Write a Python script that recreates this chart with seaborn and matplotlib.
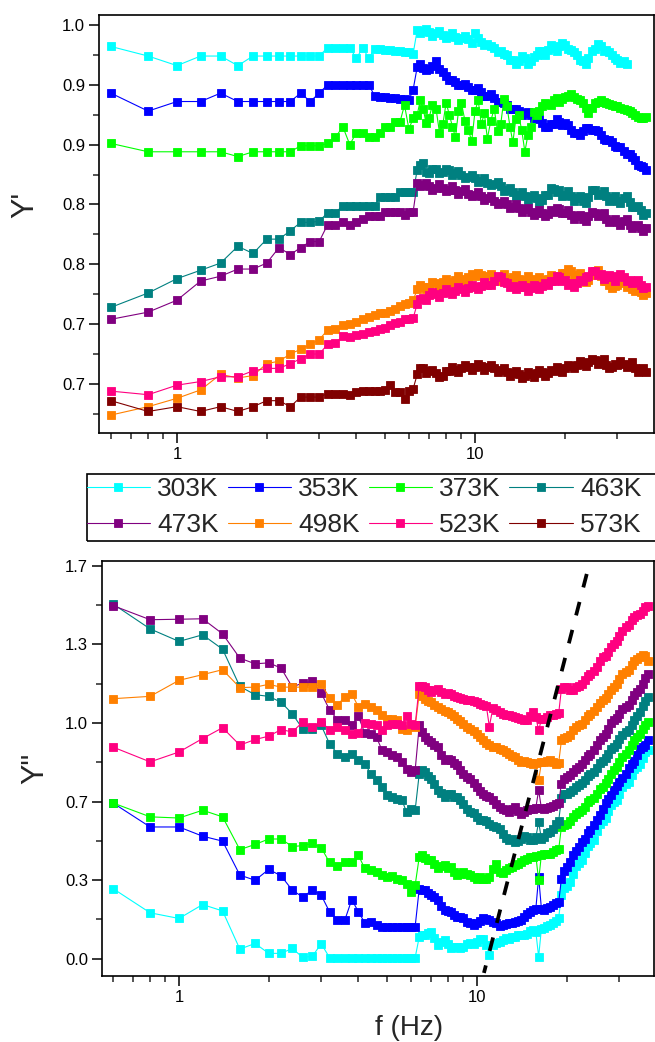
import matplotlib
matplotlib.use("Agg")
import matplotlib.pyplot as plt
from matplotlib.patches import Rectangle
from matplotlib.ticker import FixedLocator, FixedFormatter, LogLocator, NullFormatter
import pandas as pd
import seaborn as sns

sns.set_style("ticks")
plt.rcParams["font.family"] = ["Liberation Sans", "DejaVu Sans"]

# ---------------------------------------------------------------- data
temps = ["303K", "353K", "373K", "463K", "473K", "498K", "523K", "573K"]
colors = ["#00FFFF", "#0000FF", "#00FF00", "#008080",
          "#800080", "#FF8000", "#FF0080", "#800000"]

freq_low = [0.6, 0.8, 1.0, 1.2, 1.4, 1.6, 1.8, 2.0, 2.2, 2.4, 2.6, 2.8, 3.0,
            3.2, 3.4, 3.6, 3.8, 4.0, 4.2, 4.4, 4.6, 4.8, 5.0, 5.2, 5.4, 5.6,
            5.8, 6.0, 6.2]
freq_high = [6.4, 6.55, 6.7, 6.85, 7.0, 7.2, 7.4, 7.6, 7.8, 8.0,
             8.2, 8.4, 8.6, 8.8, 9.0, 9.25, 9.5, 9.75, 10, 10.25,
             10.5, 10.75, 11, 11.3, 11.6, 11.9, 12.2, 12.5, 12.8, 13.1,
             13.4, 13.7, 14, 14.35, 14.7, 15.05, 15.4, 15.75, 16.1, 16.45,
             16.8, 17.2, 17.6, 18.0, 18.4, 18.8, 19.2, 19.6, 20, 20.5,
             21, 21.5, 22, 22.5, 23, 23.5, 24, 24.6, 25.2, 25.8,
             26.4, 27, 27.6, 28.2, 28.8, 29.4, 30, 30.75, 31.5, 32.25,
             33, 33.75, 34.5, 35.25, 36, 36.75, 37.5]
freq = freq_low + freq_high

# ---- Y' (real part), low-frequency run then high-frequency run
yr_303 = [0.982, 0.974, 0.966, 0.974, 0.974, 0.966, 0.974, 0.974, 0.974, 0.974,
          0.974, 0.974, 0.974, 0.981, 0.981, 0.981, 0.981, 0.972, 0.981, 0.972,
          0.980, 0.980, 0.979, 0.979, 0.978, 0.978, 0.977, 0.977, 0.976,
          0.996, 0.993, 0.995, 0.997, 0.994, 0.991, 0.993, 0.995, 0.992, 0.989,
          0.991, 0.993, 0.990, 0.987, 0.989, 0.991, 0.988, 0.985, 0.993, 0.989,
          0.986, 0.983, 0.984, 0.982, 0.981, 0.977, 0.978, 0.976, 0.975, 0.971,
          0.971, 0.967, 0.970, 0.974, 0.972, 0.967, 0.970, 0.973, 0.975, 0.978,
          0.978, 0.975, 0.979, 0.983, 0.981, 0.978, 0.982, 0.985, 0.983, 0.980,
          0.979, 0.977, 0.975, 0.971, 0.970, 0.967, 0.972, 0.978, 0.980, 0.984,
          0.982, 0.978, 0.979, 0.977, 0.975, 0.972, 0.971, 0.968, 0.970, 0.967]
yr_353 = [0.943, 0.928, 0.936, 0.936, 0.943, 0.936, 0.936, 0.936, 0.936, 0.936,
          0.943, 0.936, 0.943, 0.950, 0.950, 0.950, 0.950, 0.950, 0.950, 0.950,
          0.941, 0.940, 0.940, 0.939, 0.939, 0.938, 0.938, 0.937, 0.946,
          0.965, 0.967, 0.964, 0.962, 0.963, 0.966, 0.970, 0.963, 0.961, 0.957,
          0.954, 0.954, 0.952, 0.950, 0.950, 0.951, 0.948, 0.946, 0.946, 0.947,
          0.944, 0.941, 0.941, 0.942, 0.939, 0.936, 0.936, 0.935, 0.933, 0.930,
          0.930, 0.930, 0.928, 0.925, 0.926, 0.927, 0.925, 0.922, 0.922, 0.921,
          0.918, 0.915, 0.915, 0.917, 0.917, 0.921, 0.919, 0.916, 0.918, 0.916,
          0.912, 0.910, 0.910, 0.908, 0.911, 0.914, 0.914, 0.912, 0.912, 0.911,
          0.908, 0.905, 0.904, 0.904, 0.902, 0.899, 0.898, 0.898, 0.895, 0.892,
          0.892, 0.890, 0.887, 0.883, 0.882, 0.881, 0.879]
yr_373 = [0.901, 0.894, 0.894, 0.894, 0.894, 0.890, 0.894, 0.894, 0.894, 0.894,
          0.899, 0.899, 0.899, 0.901, 0.906, 0.915, 0.900, 0.910, 0.910, 0.906,
          0.906, 0.910, 0.915, 0.915, 0.919, 0.919, 0.933, 0.913, 0.922,
          0.925, 0.937, 0.930, 0.918, 0.922, 0.933, 0.930, 0.910, 0.917, 0.935,
          0.925, 0.915, 0.906, 0.928, 0.935, 0.920, 0.912, 0.903, 0.928, 0.937,
          0.917, 0.926, 0.905, 0.920, 0.930, 0.911, 0.917, 0.938, 0.932, 0.915,
          0.902, 0.921, 0.925, 0.912, 0.894, 0.908, 0.915, 0.927, 0.925, 0.928,
          0.932, 0.935, 0.934, 0.933, 0.937, 0.939, 0.936, 0.938, 0.940, 0.941,
          0.942, 0.940, 0.938, 0.937, 0.935, 0.931, 0.926, 0.931, 0.935, 0.936,
          0.937, 0.936, 0.935, 0.934, 0.933, 0.932, 0.932, 0.931, 0.930, 0.929,
          0.928, 0.926, 0.925, 0.923, 0.922, 0.922, 0.923]
yr_463 = [0.764, 0.776, 0.788, 0.795, 0.801, 0.815, 0.809, 0.821, 0.821, 0.828,
          0.835, 0.835, 0.836, 0.843, 0.843, 0.849, 0.849, 0.849, 0.849, 0.849,
          0.849, 0.856, 0.856, 0.856, 0.856, 0.860, 0.860, 0.860, 0.860,
          0.879, 0.883, 0.885, 0.877, 0.876, 0.880, 0.880, 0.876, 0.877, 0.880,
          0.879, 0.875, 0.876, 0.878, 0.875, 0.872, 0.873, 0.875, 0.872, 0.869,
          0.870, 0.872, 0.868, 0.866, 0.867, 0.869, 0.865, 0.861, 0.862, 0.864,
          0.860, 0.857, 0.858, 0.860, 0.857, 0.854, 0.856, 0.858, 0.855, 0.852,
          0.854, 0.858, 0.858, 0.864, 0.863, 0.860, 0.862, 0.857, 0.858, 0.861,
          0.857, 0.853, 0.855, 0.857, 0.853, 0.851, 0.856, 0.862, 0.862, 0.858,
          0.859, 0.861, 0.857, 0.853, 0.855, 0.857, 0.853, 0.851, 0.855, 0.857,
          0.852, 0.848, 0.848, 0.849, 0.845, 0.841, 0.843]
yr_473 = [0.754, 0.760, 0.770, 0.786, 0.790, 0.796, 0.796, 0.801, 0.814, 0.808,
          0.814, 0.819, 0.819, 0.833, 0.833, 0.835, 0.833, 0.835, 0.838, 0.840,
          0.840, 0.840, 0.844, 0.844, 0.844, 0.844, 0.841, 0.844, 0.844,
          0.868, 0.865, 0.866, 0.868, 0.865, 0.862, 0.864, 0.867, 0.864, 0.861,
          0.862, 0.865, 0.862, 0.859, 0.861, 0.863, 0.859, 0.857, 0.858, 0.860,
          0.857, 0.854, 0.855, 0.857, 0.853, 0.850, 0.851, 0.853, 0.850, 0.847,
          0.848, 0.850, 0.847, 0.844, 0.846, 0.847, 0.844, 0.841, 0.843, 0.845,
          0.843, 0.840, 0.842, 0.845, 0.844, 0.847, 0.846, 0.843, 0.843, 0.845,
          0.841, 0.838, 0.840, 0.841, 0.838, 0.836, 0.840, 0.844, 0.843, 0.840,
          0.842, 0.843, 0.838, 0.835, 0.836, 0.838, 0.835, 0.833, 0.836, 0.838,
          0.833, 0.830, 0.832, 0.833, 0.830, 0.828, 0.830]
yr_498 = [0.674, 0.681, 0.688, 0.695, 0.708, 0.705, 0.707, 0.717, 0.719, 0.725,
          0.729, 0.733, 0.737, 0.745, 0.746, 0.749, 0.750, 0.752, 0.754, 0.756,
          0.758, 0.759, 0.759, 0.761, 0.763, 0.765, 0.767, 0.768, 0.770,
          0.779, 0.783, 0.781, 0.779, 0.781, 0.785, 0.784, 0.782, 0.785, 0.788,
          0.785, 0.783, 0.787, 0.790, 0.788, 0.786, 0.789, 0.792, 0.790, 0.793,
          0.791, 0.788, 0.790, 0.792, 0.789, 0.786, 0.789, 0.792, 0.788, 0.786,
          0.789, 0.791, 0.788, 0.785, 0.787, 0.790, 0.788, 0.785, 0.787, 0.789,
          0.787, 0.785, 0.788, 0.791, 0.790, 0.787, 0.789, 0.793, 0.793, 0.796,
          0.794, 0.790, 0.791, 0.793, 0.789, 0.785, 0.787, 0.791, 0.793, 0.795,
          0.790, 0.786, 0.786, 0.783, 0.780, 0.782, 0.783, 0.786, 0.784, 0.781,
          0.782, 0.779, 0.778, 0.780, 0.777, 0.774, 0.776]
yr_523 = [0.694, 0.691, 0.699, 0.702, 0.706, 0.706, 0.711, 0.713, 0.713, 0.717,
          0.721, 0.725, 0.725, 0.733, 0.734, 0.740, 0.739, 0.741, 0.742, 0.743,
          0.744, 0.746, 0.747, 0.749, 0.751, 0.752, 0.754, 0.754, 0.755,
          0.767, 0.771, 0.772, 0.770, 0.774, 0.777, 0.775, 0.773, 0.776, 0.779,
          0.777, 0.775, 0.778, 0.781, 0.779, 0.777, 0.780, 0.783, 0.781, 0.779,
          0.782, 0.785, 0.783, 0.783, 0.786, 0.790, 0.789, 0.785, 0.784, 0.781,
          0.782, 0.779, 0.781, 0.783, 0.781, 0.778, 0.780, 0.783, 0.781, 0.779,
          0.782, 0.784, 0.783, 0.786, 0.786, 0.790, 0.789, 0.786, 0.787, 0.783,
          0.784, 0.781, 0.784, 0.787, 0.786, 0.789, 0.790, 0.794, 0.794, 0.791,
          0.792, 0.788, 0.789, 0.791, 0.789, 0.786, 0.790, 0.792, 0.789, 0.786,
          0.787, 0.784, 0.785, 0.787, 0.783, 0.780, 0.781]
yr_573 = [0.686, 0.677, 0.681, 0.677, 0.681, 0.677, 0.681, 0.686, 0.686, 0.681,
          0.689, 0.689, 0.689, 0.692, 0.692, 0.692, 0.691, 0.693, 0.694, 0.694,
          0.694, 0.694, 0.695, 0.699, 0.693, 0.693, 0.687, 0.694, 0.696,
          0.708, 0.713, 0.713, 0.709, 0.711, 0.712, 0.709, 0.706, 0.707, 0.711,
          0.711, 0.714, 0.712, 0.710, 0.713, 0.716, 0.714, 0.712, 0.714, 0.717,
          0.715, 0.712, 0.714, 0.716, 0.713, 0.710, 0.712, 0.713, 0.710, 0.707,
          0.709, 0.711, 0.708, 0.705, 0.707, 0.710, 0.708, 0.706, 0.709, 0.712,
          0.710, 0.707, 0.709, 0.712, 0.711, 0.714, 0.712, 0.710, 0.713, 0.716,
          0.715, 0.713, 0.716, 0.719, 0.717, 0.715, 0.718, 0.721, 0.720, 0.717,
          0.719, 0.721, 0.716, 0.713, 0.714, 0.717, 0.716, 0.719, 0.717, 0.714,
          0.716, 0.718, 0.713, 0.710, 0.711, 0.713, 0.710]

# ---- Y'' (imaginary part)
yi_303 = [0.298, 0.195, 0.171, 0.230, 0.203, 0.041, 0.065, 0.023, 0.023, 0.044,
          0.006, 0.010, 0.064, 0.005, 0.005, 0.005, 0.005, 0.005, 0.005, 0.005,
          0.005, 0.005, 0.005, 0.005, 0.005, 0.005, 0.005, 0.005, 0.005,
          0.093, 0.102, 0.100, 0.110, 0.115, 0.088, 0.058, 0.072, 0.079, 0.062,
          0.044, 0.052, 0.051, 0.045, 0.051, 0.061, 0.065, 0.062, 0.072, 0.082,
          0.086, 0.060, 0.016, 0.058, 0.065, 0.070, 0.079, 0.088, 0.086, 0.092,
          0.093, 0.100, 0.100, 0.101, 0.107, 0.117, 0.121, 0.115, 0.009, 0.128,
          0.130, 0.141, 0.145, 0.150, 0.160, 0.175, 0.270, 0.300, 0.310, 0.325,
          0.360, 0.392, 0.405, 0.418, 0.450, 0.480, 0.490, 0.505, 0.540, 0.572,
          0.585, 0.597, 0.625, 0.654, 0.665, 0.675, 0.700, 0.728, 0.740, 0.750,
          0.780, 0.806, 0.815, 0.825, 0.850, 0.876, 0.885]
yi_353 = [0.661, 0.559, 0.559, 0.520, 0.499, 0.355, 0.333, 0.379, 0.352, 0.291,
          0.262, 0.291, 0.270, 0.199, 0.164, 0.164, 0.251, 0.199, 0.153, 0.157,
          0.145, 0.136, 0.136, 0.136, 0.136, 0.136, 0.136, 0.136, 0.136,
          0.298, 0.290, 0.291, 0.280, 0.270, 0.262, 0.249, 0.222, 0.206, 0.204,
          0.199, 0.185, 0.178, 0.176, 0.171, 0.158, 0.150, 0.145, 0.150, 0.162,
          0.171, 0.168, 0.164, 0.155, 0.150, 0.140, 0.143, 0.148, 0.150, 0.153,
          0.157, 0.160, 0.164, 0.178, 0.192, 0.198, 0.206, 0.210, 0.347, 0.212,
          0.206, 0.215, 0.220, 0.226, 0.235, 0.240, 0.340, 0.374, 0.390, 0.412,
          0.439, 0.458, 0.475, 0.494, 0.510, 0.534, 0.545, 0.566, 0.587, 0.611,
          0.637, 0.659, 0.679, 0.696, 0.715, 0.732, 0.750, 0.766, 0.785, 0.811,
          0.828, 0.840, 0.863, 0.888, 0.898, 0.906, 0.926]
yi_373 = [0.661, 0.602, 0.597, 0.630, 0.602, 0.463, 0.485, 0.508, 0.508, 0.476,
          0.480, 0.489, 0.471, 0.409, 0.393, 0.411, 0.411, 0.439, 0.383, 0.376,
          0.369, 0.354, 0.347, 0.350, 0.340, 0.336, 0.319, 0.284, 0.312,
          0.432, 0.440, 0.428, 0.420, 0.418, 0.400, 0.383, 0.392, 0.397, 0.385,
          0.390, 0.370, 0.355, 0.360, 0.369, 0.360, 0.355, 0.348, 0.340, 0.345,
          0.340, 0.338, 0.347, 0.380, 0.404, 0.370, 0.362, 0.375, 0.383, 0.390,
          0.397, 0.404, 0.411, 0.420, 0.425, 0.430, 0.432, 0.438, 0.333, 0.442,
          0.446, 0.444, 0.446, 0.452, 0.460, 0.465, 0.559, 0.569, 0.573, 0.586,
          0.602, 0.615, 0.623, 0.631, 0.644, 0.664, 0.672, 0.681, 0.700, 0.720,
          0.729, 0.744, 0.764, 0.784, 0.799, 0.812, 0.835, 0.854, 0.870, 0.884,
          0.905, 0.926, 0.940, 0.955, 0.976, 0.993, 1.004]
yi_463 = [1.505, 1.399, 1.346, 1.374, 1.313, 1.155, 1.120, 1.113, 1.088, 1.039,
          0.975, 0.975, 0.990, 0.912, 0.870, 0.856, 0.870, 0.842, 0.828, 0.785,
          0.757, 0.729, 0.694, 0.686, 0.679, 0.672, 0.623, 0.637, 0.630,
          0.785, 0.800, 0.792, 0.775, 0.764, 0.740, 0.715, 0.705, 0.686, 0.698,
          0.700, 0.685, 0.686, 0.675, 0.658, 0.635, 0.623, 0.618, 0.602, 0.590,
          0.587, 0.585, 0.573, 0.562, 0.559, 0.550, 0.531, 0.512, 0.503, 0.508,
          0.496, 0.498, 0.510, 0.520, 0.517, 0.503, 0.503, 0.515, 0.580, 0.508,
          0.517, 0.532, 0.538, 0.550, 0.573, 0.585, 0.680, 0.698, 0.700, 0.708,
          0.715, 0.729, 0.735, 0.744, 0.760, 0.776, 0.785, 0.793, 0.810, 0.829,
          0.840, 0.851, 0.870, 0.889, 0.900, 0.911, 0.930, 0.949, 0.960, 0.971,
          0.990, 1.014, 1.030, 1.046, 1.070, 1.094, 1.110]
yi_473 = [1.498, 1.438, 1.440, 1.442, 1.378, 1.275, 1.251, 1.255, 1.233, 1.152,
          1.170, 1.176, 1.127, 1.056, 1.014, 1.014, 0.990, 1.028, 0.957, 0.955,
          0.940, 0.884, 0.877, 0.863, 0.856, 0.835, 0.806, 0.792, 0.799,
          0.990, 0.960, 0.940, 0.928, 0.919, 0.905, 0.898, 0.865, 0.842, 0.848,
          0.842, 0.830, 0.820, 0.800, 0.785, 0.772, 0.764, 0.745, 0.729, 0.712,
          0.700, 0.692, 0.686, 0.672, 0.658, 0.645, 0.637, 0.630, 0.623, 0.635,
          0.644, 0.628, 0.616, 0.622, 0.630, 0.634, 0.637, 0.640, 0.715, 0.638,
          0.637, 0.640, 0.644, 0.650, 0.658, 0.662, 0.743, 0.762, 0.771, 0.778,
          0.792, 0.806, 0.813, 0.824, 0.842, 0.860, 0.870, 0.884, 0.905, 0.926,
          0.940, 0.954, 0.976, 0.998, 1.011, 1.021, 1.039, 1.058, 1.068, 1.078,
          1.096, 1.117, 1.131, 1.144, 1.166, 1.192, 1.209]
yi_498 = [1.103, 1.113, 1.181, 1.205, 1.226, 1.150, 1.152, 1.164, 1.152, 1.152,
          1.152, 1.152, 1.164, 1.108, 1.077, 1.110, 1.124, 1.068, 1.082, 1.068,
          1.053, 1.032, 1.018, 1.018, 1.011, 0.976, 0.969, 0.990, 0.983,
          1.124, 1.115, 1.103, 1.095, 1.089, 1.078, 1.068, 1.060, 1.050, 1.045,
          1.039, 1.028, 1.018, 1.008, 0.997, 0.985, 0.976, 0.965, 0.955, 0.940,
          0.926, 0.915, 0.905, 0.900, 0.898, 0.890, 0.884, 0.877, 0.870, 0.862,
          0.856, 0.845, 0.835, 0.838, 0.835, 0.830, 0.828, 0.832, 0.757, 0.833,
          0.835, 0.840, 0.842, 0.835, 0.828, 0.832, 0.926, 0.937, 0.940, 0.951,
          0.969, 0.984, 0.990, 0.996, 1.011, 1.029, 1.039, 1.050, 1.068, 1.086,
          1.096, 1.106, 1.124, 1.142, 1.152, 1.166, 1.188, 1.206, 1.216, 1.226,
          1.244, 1.262, 1.272, 1.280, 1.290, 1.282, 1.265]
yi_523 = [0.898, 0.835, 0.877, 0.934, 0.980, 0.906, 0.930, 0.944, 0.972, 0.962,
          1.004, 0.984, 1.004, 0.972, 0.983, 0.969, 0.955, 0.957, 1.000, 0.997,
          0.990, 0.969, 0.990, 0.997, 0.997, 0.990, 1.028, 0.997, 0.990,
          1.159, 1.158, 1.152, 1.140, 1.131, 1.138, 1.145, 1.132, 1.125, 1.126,
          1.124, 1.115, 1.110, 1.106, 1.103, 1.099, 1.096, 1.092, 1.089, 1.082,
          1.075, 1.071, 0.985, 1.062, 1.053, 1.046, 1.039, 1.035, 1.032, 1.028,
          1.025, 1.021, 1.018, 1.014, 1.011, 1.030, 1.046, 1.025, 0.969, 1.015,
          1.018, 1.025, 1.032, 1.036, 1.039, 1.042, 1.145, 1.154, 1.152, 1.141,
          1.138, 1.152, 1.159, 1.166, 1.181, 1.199, 1.209, 1.219, 1.237, 1.262,
          1.280, 1.286, 1.300, 1.322, 1.336, 1.349, 1.371, 1.392, 1.406, 1.416,
          1.435, 1.450, 1.456, 1.463, 1.477, 1.492, 1.498]

real_part = [yr_303, yr_353, yr_373, yr_463, yr_473, yr_498, yr_523, yr_573]
imag_part = [yi_303, yi_353, yi_373, yi_463, yi_473, yi_498, yi_523]

# guide line marking the shift of the loss minimum
guide_f = [23.35, 10.55]
guide_y = [1.632, -0.06]

# axis ticks
x_major = [1, 10]
x_major_labels = ["1", "10"]
yr_ticks = [0.70, 0.75, 0.80, 0.85, 0.90, 0.95, 1.00]
yr_tick_labels = ["0.7", "0.7", "0.8", "0.8", "0.9", "0.9", "1.0"]
yr_minor = [0.675, 0.725, 0.775, 0.825, 0.875, 0.925, 0.975]
yi_ticks = [0.0, 1 / 3, 2 / 3, 1.0, 4 / 3, 5 / 3]
yi_tick_labels = ["0.0", "0.3", "0.7", "1.0", "1.3", "1.7"]
yi_minor = [1 / 6, 1 / 2, 5 / 6, 7 / 6, 3 / 2]


def long_table(series, names):
    rows = []
    for name, vals in zip(names, series):
        for f, v in zip(freq, vals):
            rows.append((name, f, v))
    return pd.DataFrame(rows, columns=["T", "f", "Y"])


df_real = long_table(real_part, temps)
df_imag = long_table(imag_part, temps[:len(imag_part)])

# ---------------------------------------------------------------- figure
W, H = 655, 1042
fig = plt.figure(figsize=(W / 100, H / 100), dpi=100)
ax1 = fig.add_axes([99 / W, 1 - 433 / H, 555 / W, 418 / H])
ax2 = fig.add_axes([102 / W, 1 - 976 / H, 552 / W, 415 / H])

line_kw = dict(marker="s", markersize=6.2, markeredgewidth=0.6,
               linewidth=0.8, estimator=None, sort=False, legend=False)


def draw_panel(ax, df):
    handles = []
    for name, col in zip(temps, colors):
        sub = df[df["T"] == name]
        if sub.empty:
            continue
        sns.lineplot(data=sub, x="f", y="Y", color=col,
                     markeredgecolor=col, ax=ax, **line_kw)
        ln = ax.lines[-1]
        ln.set_label(name)
        handles.append(ln)
    return handles


handles = draw_panel(ax1, df_real)
draw_panel(ax2, df_imag)

ax2.plot(guide_f, guide_y, color="black", linewidth=2.7,
         linestyle=(0, (3.7, 4.0)), dash_capstyle="butt", zorder=5)

for ax in (ax1, ax2):
    ax.set_xscale("log")
    ax.xaxis.set_major_locator(FixedLocator(x_major))
    ax.xaxis.set_major_formatter(FixedFormatter(x_major_labels))
    ax.xaxis.set_minor_locator(LogLocator(base=10, subs=range(2, 10)))
    ax.xaxis.set_minor_formatter(NullFormatter())
    for sp in ax.spines.values():
        sp.set_visible(True)
        sp.set_linewidth(1.2)
        sp.set_color("black")
    ax.tick_params(which="major", direction="out", length=7, width=1.1,
                   labelsize=12, pad=3, top=False, right=False, colors="black")
    ax.tick_params(which="minor", direction="out", length=4, width=1.1,
                   top=False, right=False)
    ax.set_facecolor("white")

ax1.set_xlim(0.5473, 39.87)
ax1.set_ylim(0.659, 1.0083)
ax1.yaxis.set_major_locator(FixedLocator(yr_ticks))
ax1.yaxis.set_major_formatter(FixedFormatter(yr_tick_labels))
ax1.yaxis.set_minor_locator(FixedLocator(yr_minor))
ax1.set_xlabel("")
ax1.set_ylabel("Y'", fontsize=22)
ax1.yaxis.set_label_coords(-0.133, 0.545)
ax1.yaxis.label.set_verticalalignment("center")

ax2.set_xlim(0.5515, 39.26)
ax2.set_ylim(-0.073, 1.687)
ax2.yaxis.set_major_locator(FixedLocator(yi_ticks))
ax2.yaxis.set_major_formatter(FixedFormatter(yi_tick_labels))
ax2.yaxis.set_minor_locator(FixedLocator(yi_minor))
ax2.set_ylabel('Y"', fontsize=22)
ax2.yaxis.set_label_coords(-0.121, 0.501)
ax2.yaxis.label.set_verticalalignment("center")
ax2.set_xlabel("f (Hz)", fontsize=20)
ax2.xaxis.set_label_coords(0.557, -0.125)
ax2.xaxis.label.set_verticalalignment("center")

# legend laid out row by row (matplotlib fills columns first)
order = [0, 4, 1, 5, 2, 6, 3, 7]
leg = fig.legend([handles[i] for i in order], [temps[i] for i in order],
                 loc="upper left", bbox_to_anchor=(86.7 / W, 1 - 477.0 / H),
                 ncol=4, fontsize=19, frameon=False, borderaxespad=0,
                 borderpad=0, handlelength=2.39, handletextpad=0.29,
                 columnspacing=0.33, labelspacing=0.45)

# legend box runs past the right edge of the figure
fig.add_artist(Rectangle((86.7 / W, 1 - 541 / H), (720 - 86.7) / W,
                         (541 - 474.3) / H, transform=fig.transFigure,
                         fill=False, edgecolor="black", linewidth=1.2,
                         clip_on=False))

fig.savefig("out.png", dpi=100, facecolor="white")
